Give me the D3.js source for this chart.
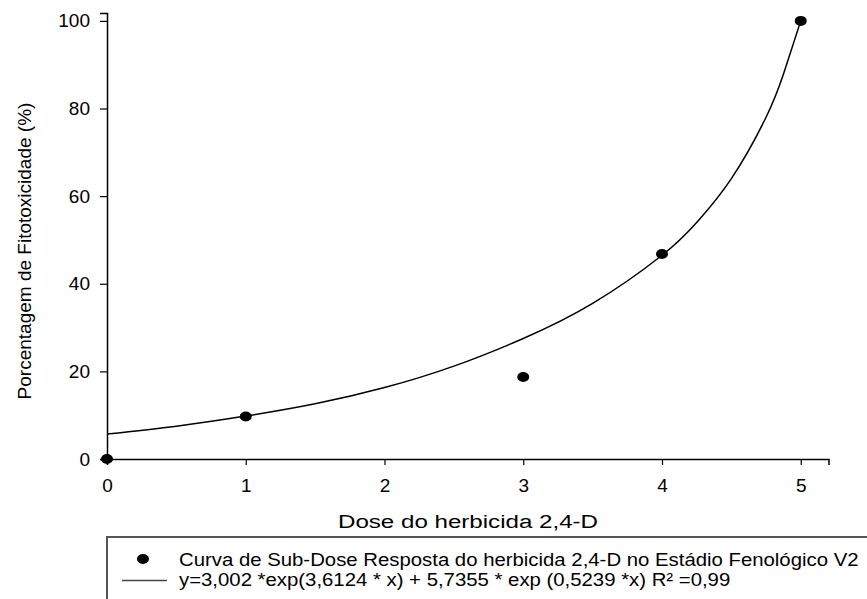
<!DOCTYPE html>
<html lang="pt">
<head>
    <meta charset="UTF-8">
    <title>Curva de Sub-Dose Resposta 2,4-D</title>
    <script src="https://d3js.org/d3.v7.min.js"></script>
    <style>
        body { margin: 0; background: #fff; }
        text { font-family: "Liberation Sans", Arial, sans-serif; fill: #000; }
    </style>
</head>
<body>
    <svg id="chart" width="867" height="599"></svg>
    <script>
// observed points (dose, % fitotoxicidade)
const doses = [0, 1, 3, 4, 5];
const fitotox = [0, 9.7, 18.7, 46.8, 100];

// fitted curve
const curveX = [0, 0.5, 1, 1.5, 2, 2.5, 3, 3.5, 4, 4.25, 4.5, 4.75, 4.875, 5];
const curveY = [5.7, 7.5, 9.8, 12.6, 16.3, 21.2, 27.5, 35.5, 46.5, 54, 64, 78, 87.8, 100];

const xTicks = [0, 1, 2, 3, 4, 5];
const yTicks = [0, 20, 40, 60, 80, 100];

const xTitle = "Dose do herbicida 2,4-D";
const yTitle = "Porcentagem de Fitotoxicidade (%)";
const legendLabels = [
    "Curva de Sub-Dose Resposta do herbicida 2,4-D no Estádio Fenológico V2",
    "y=3,002 *exp(3,6124 * x) + 5,7355 * exp (0,5239 *x) R² =0,99"
];

const svg = d3.select("#chart");

const x = d3.scaleLinear().domain([0, 5.2]).range([107, 828.5]);
const y = d3.scaleLinear().domain([0, 101.8]).range([459, 13]);

// x axis
const xAxis = svg.append("g")
    .attr("transform", `translate(0,${y(0)})`)
    .call(d3.axisBottom(x).tickValues(xTicks).tickSize(6).tickPadding(14).tickFormat(d3.format("d")));
xAxis.select(".domain").attr("stroke", "#000").attr("stroke-width", 1.5);
xAxis.selectAll(".tick line").attr("stroke", "#000").attr("stroke-width", 1.2);
xAxis.selectAll(".tick text").attr("font-size", 19).attr("font-family", null);

// y axis
const yAxis = svg.append("g")
    .attr("transform", `translate(${x(0)},0)`)
    .call(d3.axisLeft(y).tickValues(yTicks).tickSize(7).tickPadding(10).tickFormat(d3.format("d")));
yAxis.select(".domain").attr("stroke", "#000").attr("stroke-width", 1.5);
yAxis.selectAll(".tick line").attr("stroke", "#000").attr("stroke-width", 1.2);
yAxis.selectAll(".tick text").attr("font-size", 19).attr("font-family", null);

// titles (the original is a bit stretched sideways)
svg.append("text")
    .attr("transform", "translate(468,528) scale(1.27,1)")
    .attr("text-anchor", "middle")
    .attr("font-size", 19)
    .text(xTitle);

svg.append("text")
    .attr("transform", "translate(31,251) rotate(-90)")
    .attr("text-anchor", "middle")
    .attr("font-size", 19)
    .text(yTitle);

// fitted curve
const line = d3.line()
    .x((d, i) => x(curveX[i]))
    .y((d, i) => y(curveY[i]))
    .curve(d3.curveNatural);

svg.append("path")
    .attr("d", line(curveX))
    .attr("fill", "none")
    .attr("stroke", "#000")
    .attr("stroke-width", 1.5);

// points
svg.append("g")
    .selectAll("ellipse")
    .data(doses)
    .join("ellipse")
    .attr("cx", d => x(d))
    .attr("cy", (d, i) => y(fitotox[i]))
    .attr("rx", 6)
    .attr("ry", 5)
    .attr("fill", "#000");

// legend
const legend = svg.append("g");
legend.append("rect")
    .attr("x", 107).attr("y", 537)
    .attr("width", 800).attr("height", 100)
    .attr("fill", "none")
    .attr("stroke", "#555")
    .attr("stroke-width", 2);

legend.append("ellipse")
    .attr("cx", 143).attr("cy", 559)
    .attr("rx", 6).attr("ry", 5)
    .attr("fill", "#000");

legend.append("line")
    .attr("x1", 122).attr("x2", 167)
    .attr("y1", 580.5).attr("y2", 580.5)
    .attr("stroke", "#444")
    .attr("stroke-width", 1.5);

legend.selectAll("text")
    .data(legendLabels)
    .join("text")
    .attr("transform", (d, i) => `translate(179,${566 + i * 20}) scale(1.1,1)`)
    .attr("font-size", 18.5)
    .text(d => d);
    </script>
</body>
</html>
